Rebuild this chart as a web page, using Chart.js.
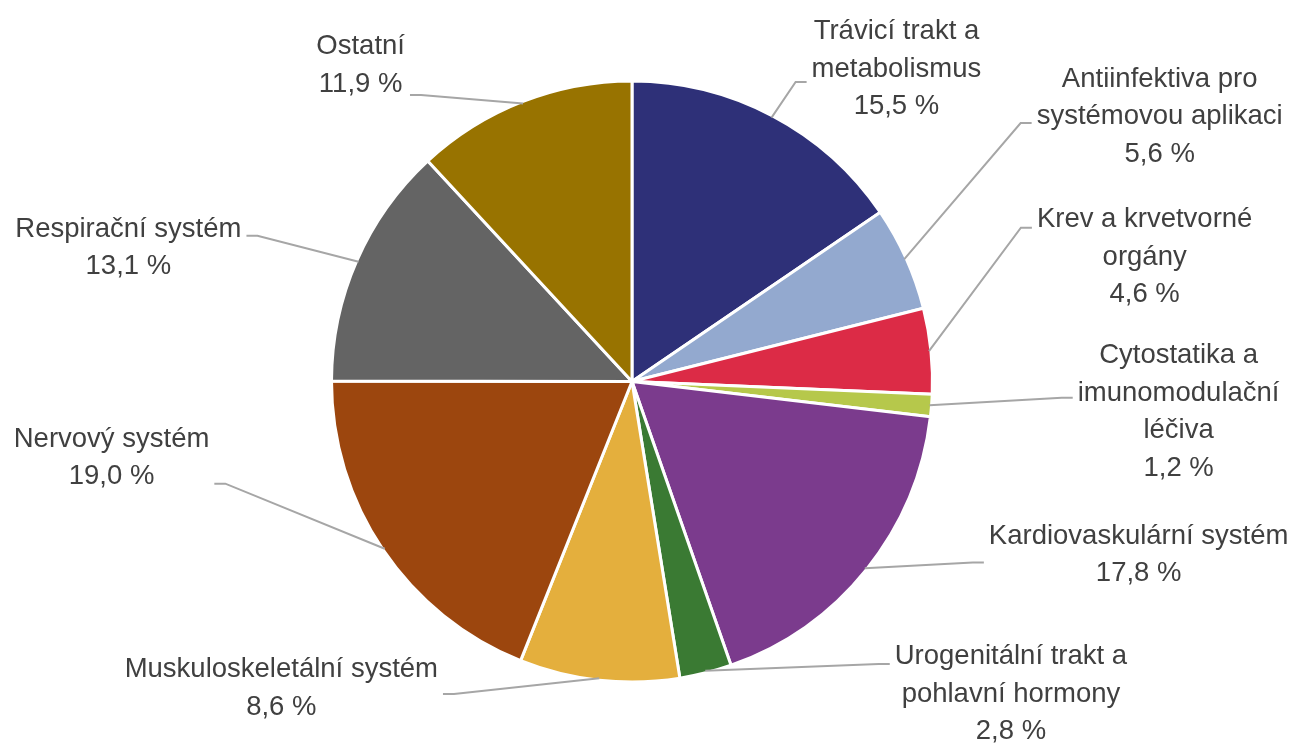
<!DOCTYPE html>
<html lang="cs">
<head>
<meta charset="utf-8">
<title>Pie chart</title>
<script src="https://cdn.jsdelivr.net/npm/chart.js@4/dist/chart.umd.min.js"></script>
<style>
  html, body { margin: 0; padding: 0; background: #ffffff; }
  #wrap { position: relative; width: 1291px; height: 744px; }
</style>
</head>
<body>
<div id="wrap"><canvas id="chart"></canvas></div>
<script>
// ---- data ----
const categories = [
  'Trávicí trakt a metabolismus',
  'Antiinfektiva pro systémovou aplikaci',
  'Krev a krvetvorné orgány',
  'Cytostatika a imunomodulační léčiva',
  'Kardiovaskulární systém',
  'Urogenitální trakt a pohlavní hormony',
  'Muskuloskeletální systém',
  'Nervový systém',
  'Respirační systém',
  'Ostatní'
];
const shares = [15.5, 5.6, 4.6, 1.2, 17.8, 2.8, 8.6, 19.0, 13.1, 11.9];
const labelLines = [
  ['Trávicí trakt a', 'metabolismus'],
  ['Antiinfektiva pro', 'systémovou aplikaci'],
  ['Krev a krvetvorné', 'orgány'],
  ['Cytostatika a', 'imunomodulační', 'léčiva'],
  ['Kardiovaskulární systém'],
  ['Urogenitální trakt a', 'pohlavní hormony'],
  ['Muskuloskeletální systém'],
  ['Nervový systém'],
  ['Respirační systém'],
  ['Ostatní']
];
const sliceColors = [
  '#2E3078', '#93A9CF', '#DC2B46', '#B6C84B', '#7B3B8D',
  '#3A7A33', '#E4AF3D', '#9C460E', '#646464', '#987300'
];

// ---- label layout (in units of pie radius, relative to pie centre): [text centre x, text block centre y, leader attach y]
const labelLayout = [
  [0.880, -1.047, -0.997],
  [1.756, -0.890, -0.860],
  [1.706, -0.421, -0.512],
  [1.819,  0.094,  0.054],
  [1.686,  0.569,  0.602],
  [1.261,  1.033,  0.940],
  [-1.167, 1.013,  1.040],
  [-1.732, 0.247,  0.340],
  [-1.676, -0.452, -0.485],
  [-0.903, -1.060, -0.953]
];

const FONT = '27.5px "Liberation Sans", Arial, sans-serif';
const LINE_H = 37.5;
const CAP_H = 20;
const TEXT_COLOR = '#404040';
const LEADER_COLOR = '#A6A6A6';
const GAP = 5;
const ELBOW = 11;

function fmtShare(v) {
  return v.toFixed(1).replace('.', ',') + ' %';
}

const outsideLabels = {
  id: 'outsideLabels',
  afterDatasetsDraw(chart) {
    const ctx = chart.ctx;
    const meta = chart.getDatasetMeta(0);
    ctx.save();
    ctx.font = FONT;
    meta.data.forEach((arc, i) => {
      const p = arc.getProps(['x', 'y', 'startAngle', 'endAngle', 'outerRadius'], true);
      const mid = (p.startAngle + p.endAngle) / 2;
      const r = p.outerRadius;
      const px = p.x + Math.cos(mid) * (r - 2);
      const py = p.y + Math.sin(mid) * (r - 2);
      const lay = labelLayout[i];
      const cx = p.x + lay[0] * r;
      const cy = p.y + lay[1] * r;
      const ay = p.y + lay[2] * r;
      const lines = labelLines[i].concat([fmtShare(shares[i])]);
      const w = Math.max(...lines.map(t => ctx.measureText(t).width));
      const right = cx > p.x;
      const edgeX = right ? cx - w / 2 - GAP : cx + w / 2 + GAP;
      const elbowX = right ? edgeX - ELBOW : edgeX + ELBOW;

      ctx.strokeStyle = LEADER_COLOR;
      ctx.lineWidth = 2;
      ctx.lineJoin = 'miter';
      ctx.beginPath();
      ctx.moveTo(px, py);
      ctx.lineTo(elbowX, ay);
      ctx.lineTo(edgeX, ay);
      ctx.stroke();

      ctx.fillStyle = TEXT_COLOR;
      ctx.textAlign = 'center';
      ctx.textBaseline = 'alphabetic';
      const n = lines.length;
      lines.forEach((t, k) => {
        ctx.fillText(t, cx, cy + (k - (n - 1) / 2) * LINE_H + CAP_H / 2);
      });
    });
    ctx.restore();
  }
};

new Chart(document.getElementById('chart'), {
  type: 'pie',
  data: {
    labels: categories,
    datasets: [{
      data: shares,
      backgroundColor: sliceColors,
      borderColor: '#ffffff',
      borderWidth: 3,
      hoverOffset: 0
    }]
  },
  options: {
    responsive: true,
    maintainAspectRatio: false,
    animation: false,
    layout: { padding: { left: 330, right: 357, top: 79, bottom: 60 } },
    plugins: {
      legend: { display: false },
      tooltip: { enabled: false }
    }
  },
  plugins: [outsideLabels]
});
</script>
</body>
</html>
